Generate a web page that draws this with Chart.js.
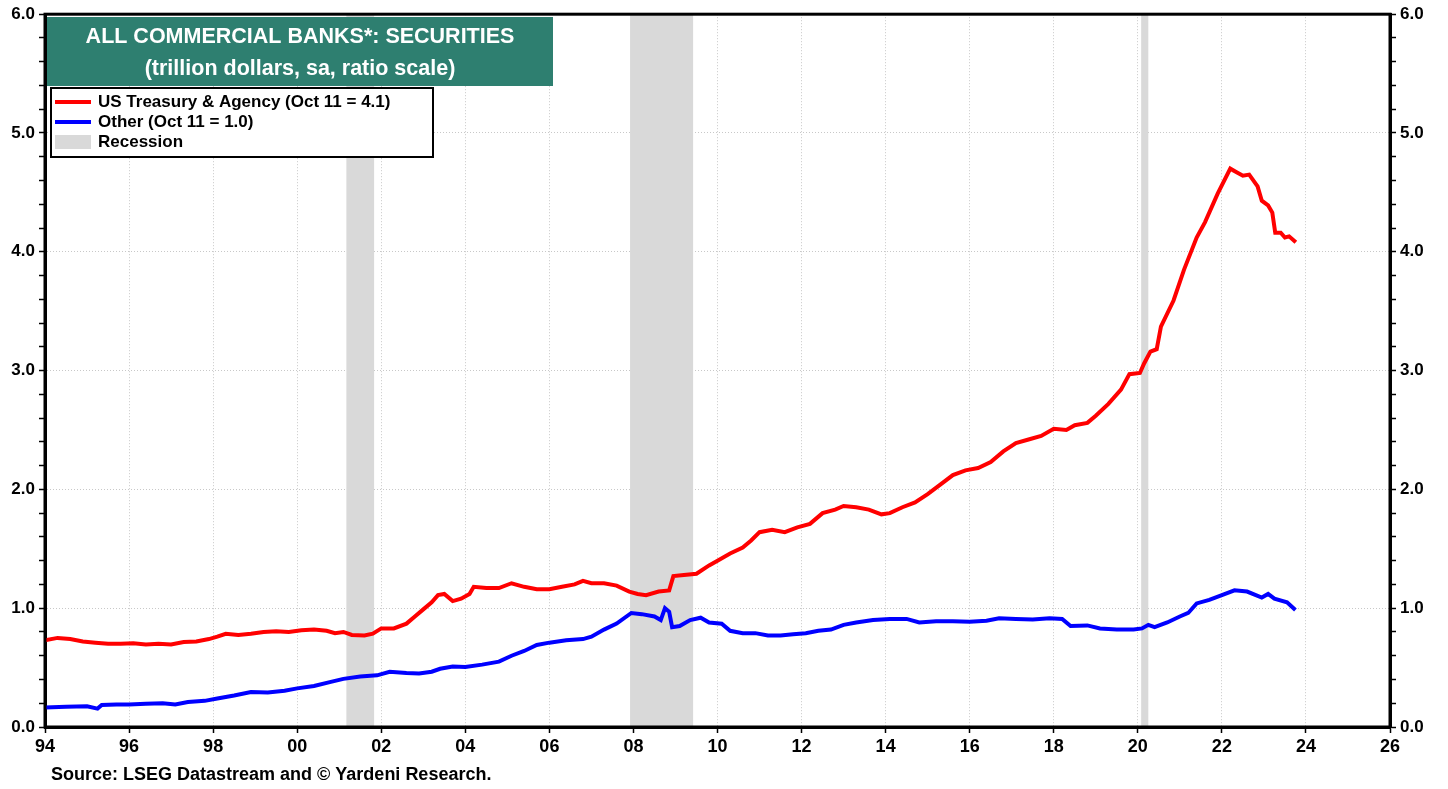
<!DOCTYPE html>
<html>
<head>
<meta charset="utf-8">
<script src="https://cdn.jsdelivr.net/npm/chart.js@4/dist/chart.umd.min.js"></script>
<style>
  html, body { margin: 0; padding: 0; background: #fff; }
  canvas { display: block; }
</style>
</head>
<body>
<canvas id="chart" width="1448" height="789"></canvas>
<script>
// weekly data at roughly quarterly spacing (trillion $)
const treasuryYears = [
  1994.0, 1994.3, 1994.6, 1994.9, 1995.2, 1995.5, 1995.8, 1996.1, 1996.4, 1996.7,
  1997.0, 1997.3, 1997.6, 1997.9, 1998.1, 1998.3, 1998.6, 1998.9, 1999.2, 1999.5,
  1999.8, 2000.1, 2000.4, 2000.7, 2000.9, 2001.1, 2001.3, 2001.6, 2001.8, 2002.0,
  2002.3, 2002.6, 2002.8, 2003.0, 2003.2, 2003.35, 2003.5, 2003.7, 2003.9, 2004.1,
  2004.2, 2004.5, 2004.8, 2005.1, 2005.4, 2005.7, 2006.0, 2006.3, 2006.6, 2006.8,
  2007.0, 2007.3, 2007.6, 2007.9, 2008.1, 2008.3, 2008.6, 2008.85, 2008.95, 2009.2,
  2009.5, 2009.8, 2010.0, 2010.3, 2010.6, 2010.8, 2011.0, 2011.3, 2011.6, 2011.9,
  2012.2, 2012.5, 2012.8, 2013.0, 2013.3, 2013.6, 2013.9, 2014.1, 2014.4, 2014.7,
  2015.0, 2015.3, 2015.6, 2015.9, 2016.2, 2016.5, 2016.8, 2017.1, 2017.4, 2017.7,
  2018.0, 2018.3, 2018.5, 2018.8, 2019.0, 2019.3, 2019.6, 2019.8, 2020.05, 2020.15,
  2020.3, 2020.45, 2020.55, 2020.85, 2021.1, 2021.4, 2021.6, 2021.9, 2022.2, 2022.35,
  2022.5, 2022.65, 2022.85, 2022.95, 2023.1, 2023.2, 2023.27, 2023.4, 2023.5, 2023.6,
  2023.76
];
const treasuryValues = [
  0.73, 0.75, 0.74, 0.72, 0.71, 0.70, 0.70, 0.705, 0.695, 0.70,
  0.695, 0.715, 0.72, 0.74, 0.76, 0.785, 0.775, 0.785, 0.80, 0.805,
  0.80, 0.815, 0.82, 0.81, 0.79, 0.80, 0.775, 0.77, 0.785, 0.83,
  0.83, 0.87, 0.93, 0.99, 1.05, 1.11, 1.12, 1.06, 1.08, 1.12,
  1.18, 1.17, 1.17, 1.21, 1.18, 1.16, 1.16, 1.18, 1.20, 1.23,
  1.21, 1.21, 1.19, 1.14, 1.12, 1.11, 1.14, 1.15, 1.27, 1.28,
  1.29, 1.36, 1.40, 1.46, 1.51, 1.57, 1.64, 1.66, 1.64, 1.68,
  1.71, 1.80, 1.83, 1.86, 1.85, 1.83, 1.79, 1.80, 1.85, 1.89,
  1.96, 2.04, 2.12, 2.16, 2.18, 2.23, 2.32, 2.39, 2.42, 2.45,
  2.51, 2.50, 2.54, 2.56, 2.62, 2.72, 2.84, 2.97, 2.98, 3.06,
  3.16, 3.18, 3.37, 3.59, 3.85, 4.12, 4.25, 4.49, 4.70, 4.67,
  4.64, 4.65, 4.55, 4.43, 4.39, 4.33, 4.16, 4.16, 4.12, 4.13,
  4.08
];

const otherYears = [
  1994.0, 1994.5, 1995.0, 1995.25, 1995.35, 1995.7, 1996.0, 1996.4, 1996.8, 1997.1,
  1997.4, 1997.8, 1998.1, 1998.5, 1998.9, 1999.3, 1999.7, 2000.0, 2000.4, 2000.8,
  2001.1, 2001.5, 2001.9, 2002.2, 2002.6, 2002.9, 2003.2, 2003.4, 2003.7, 2004.0,
  2004.4, 2004.8, 2005.1, 2005.4, 2005.7, 2006.0, 2006.4, 2006.8, 2007.0, 2007.3,
  2007.6, 2007.95, 2008.2, 2008.5, 2008.65, 2008.75, 2008.85, 2008.92, 2009.1, 2009.35,
  2009.6, 2009.8, 2010.1, 2010.3, 2010.6, 2010.9, 2011.2, 2011.5, 2011.8, 2012.1,
  2012.4, 2012.7, 2013.0, 2013.3, 2013.7, 2014.1, 2014.5, 2014.8, 2015.2, 2015.6,
  2016.0, 2016.4, 2016.7, 2017.1, 2017.5, 2017.9, 2018.2, 2018.4, 2018.8, 2019.1,
  2019.5, 2019.9, 2020.1, 2020.25, 2020.4, 2020.7, 2021.0, 2021.2, 2021.4, 2021.7,
  2022.0, 2022.3, 2022.6, 2022.95, 2023.1, 2023.25, 2023.55, 2023.75
];
const otherValues = [
  0.165, 0.17, 0.175, 0.155, 0.185, 0.19, 0.19, 0.195, 0.20, 0.19,
  0.21, 0.22, 0.24, 0.265, 0.295, 0.29, 0.305, 0.325, 0.345, 0.38,
  0.405, 0.425, 0.435, 0.465, 0.455, 0.45, 0.465, 0.49, 0.51, 0.505,
  0.525, 0.55, 0.60, 0.64, 0.69, 0.71, 0.73, 0.74, 0.76, 0.82,
  0.87, 0.96, 0.95, 0.93, 0.90, 1.00, 0.97, 0.84, 0.85, 0.90,
  0.92, 0.88, 0.87, 0.81, 0.79, 0.79, 0.77, 0.77, 0.78, 0.79,
  0.81, 0.82, 0.86, 0.88, 0.90, 0.91, 0.91, 0.88, 0.89, 0.89,
  0.885, 0.895, 0.915, 0.91, 0.905, 0.915, 0.91, 0.85, 0.855, 0.83,
  0.82, 0.82, 0.83, 0.86, 0.84, 0.88, 0.93, 0.96, 1.04, 1.07,
  1.11, 1.15, 1.14, 1.09, 1.12, 1.08, 1.05, 0.985
];

// recessions as [start, end] in decimal years
const recessionStarts = [2001.17, 2007.92, 2020.08];
const recessionEnds = [2001.83, 2009.42, 2020.25];

const titleLines = ["ALL COMMERCIAL BANKS*: SECURITIES", "(trillion dollars, sa, ratio scale)"];
const legendLabels = ["US Treasury & Agency (Oct 11 = 4.1)", "Other (Oct 11 = 1.0)", "Recession"];
const sourceText = "Source: LSEG Datastream and \u00a9 Yardeni Research.";

const FONT = "'Liberation Sans', Arial, sans-serif";
const RED = "#ff0000";
const BLUE = "#0000ff";
const GREY = "#d9d9d9";

function toPoints(xs, ys) {
  return xs.map((x, i) => ({ x: x, y: ys[i] }));
}

const isMajor = (v) => Math.abs(v - Math.round(v)) < 1e-6;

const recessionBands = {
  id: "recessionBands",
  beforeDatasetsDraw(chart) {
    const { ctx, chartArea: { top, bottom }, scales: { x } } = chart;
    ctx.save();
    ctx.fillStyle = GREY;
    for (let i = 0; i < recessionStarts.length; i++) {
      const x0 = x.getPixelForValue(recessionStarts[i]);
      const x1 = x.getPixelForValue(recessionEnds[i]);
      ctx.fillRect(x0, top, x1 - x0, bottom - top);
    }
    ctx.restore();
  },
};

const decorations = {
  id: "decorations",
  afterDraw(chart) {
    const { ctx, chartArea: { left, right, top, bottom } } = chart;
    ctx.save();

    // frame
    ctx.strokeStyle = "#000";
    ctx.lineWidth = 3;
    ctx.strokeRect(left, top, right - left, bottom - top);

    // title box
    ctx.fillStyle = "#2e7f70";
    ctx.fillRect(47, 17, 506, 69);
    ctx.fillStyle = "#fff";
    ctx.font = "bold 21.5px " + FONT;
    ctx.textAlign = "center";
    ctx.textBaseline = "middle";
    ctx.fillText(titleLines[0], 300, 37);
    ctx.fillText(titleLines[1], 300, 69);

    // legend box
    ctx.fillStyle = "#fff";
    ctx.fillRect(51, 88, 382, 69);
    ctx.strokeStyle = "#000";
    ctx.lineWidth = 2;
    ctx.strokeRect(51, 88, 382, 69);

    ctx.lineWidth = 4;
    ctx.strokeStyle = RED;
    ctx.beginPath(); ctx.moveTo(55, 102); ctx.lineTo(91, 102); ctx.stroke();
    ctx.strokeStyle = BLUE;
    ctx.beginPath(); ctx.moveTo(55, 122); ctx.lineTo(91, 122); ctx.stroke();
    ctx.fillStyle = GREY;
    ctx.fillRect(55, 135, 36, 14);

    ctx.fillStyle = "#000";
    ctx.font = "bold 17px " + FONT;
    ctx.textAlign = "left";
    legendLabels.forEach((t, i) => ctx.fillText(t, 98, 102 + i * 20));

    // source
    ctx.font = "bold 18px " + FONT;
    ctx.fillText(sourceText, 51, 775);
    ctx.restore();
  },
};

const yTicks = {
  stepSize: 0.2,
  autoSkip: false,
  color: "#000",
  font: { family: FONT, size: 17, weight: "bold" },
  padding: 4,
  callback: (v) => (isMajor(v) ? v.toFixed(1) : ""),
};
const yGrid = {
  color: (c) => (c.tick && isMajor(c.tick.value) && c.tick.value > 0 && c.tick.value < 6 ? "#c8c8c8" : "rgba(0,0,0,0)"),
  lineWidth: 1,
  tickColor: "#000",
  tickLength: 6,
  tickWidth: 1.5,
};

new Chart(document.getElementById("chart"), {
  type: "line",
  data: {
    datasets: [
      {
        label: legendLabels[0],
        data: toPoints(treasuryYears, treasuryValues),
        borderColor: RED,
        borderWidth: 4,
        pointRadius: 0,
        tension: 0,
      },
      {
        label: legendLabels[1],
        data: toPoints(otherYears, otherValues),
        borderColor: BLUE,
        borderWidth: 4,
        pointRadius: 0,
        tension: 0,
      },
    ],
  },
  options: {
    responsive: false,
    animation: false,
    layout: { padding: { top: 14, left: 0, right: 0, bottom: 0 } },
    plugins: { legend: { display: false }, tooltip: { enabled: false } },
    scales: {
      x: {
        type: "linear",
        min: 1994,
        max: 2026,
        ticks: {
          stepSize: 2,
          color: "#000",
          font: { family: FONT, size: 18, weight: "bold" },
          padding: 3,
          maxRotation: 0,
          callback: (v) => String(Math.round(v) % 100).padStart(2, "0"),
        },
        grid: {
          color: (c) => (c.tick && c.tick.value > 1994 && c.tick.value < 2026 ? "#c8c8c8" : "rgba(0,0,0,0)"),
          lineWidth: 1,
          tickColor: "#000",
          tickLength: 6,
          tickWidth: 1.5,
        },
        border: { display: true, color: "#000", width: 3, dash: [1, 2] },
        afterFit: (s) => { s.height = 62; },
      },
      y: {
        position: "left",
        min: 0,
        max: 6,
        ticks: yTicks,
        grid: yGrid,
        border: { display: true, color: "#000", width: 3, dash: [1, 2] },
        afterFit: (s) => { s.width = 45; },
      },
      y2: {
        position: "right",
        min: 0,
        max: 6,
        ticks: yTicks,
        grid: Object.assign({}, yGrid, { drawOnChartArea: false }),
        border: { display: true, color: "#000", width: 3 },
        afterFit: (s) => { s.width = 58; },
      },
    },
  },
  plugins: [recessionBands, decorations],
});
</script>
</body>
</html>
